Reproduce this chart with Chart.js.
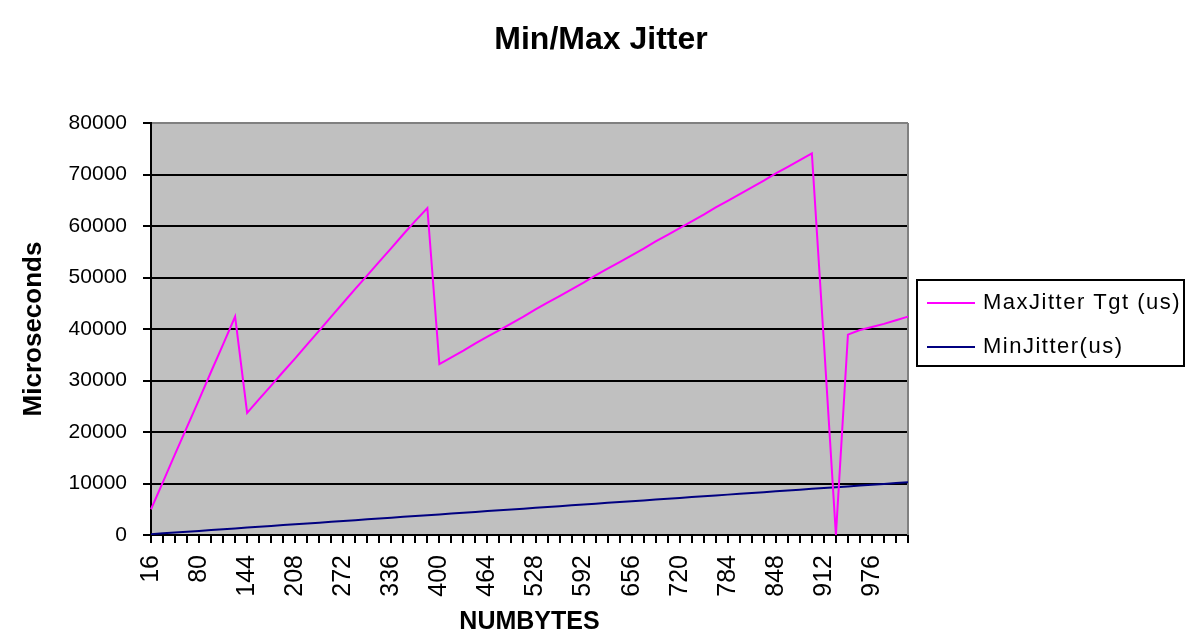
<!DOCTYPE html>
<html><head><meta charset="utf-8">
<script src="https://cdn.jsdelivr.net/npm/chart.js@4/dist/chart.umd.min.js"></script>
<style>html,body{margin:0;padding:0;background:#fff;overflow:hidden}</style>
</head><body>
<canvas id="c" width="1202" height="637"></canvas>
<script>
const chartTitle = 'Min/Max Jitter';
const xTitle = 'NUMBYTES';
const yTitle = 'Microseconds';
const seriesNames = ['MaxJitter Tgt (us)', 'MinJitter(us)'];

const numBytes = [16,32,48,64,80,96,112,128,144,160,176,192,208,224,240,256,
  272,288,304,320,336,352,368,384,400,416,432,448,464,480,496,512,
  528,544,560,576,592,608,624,640,656,672,688,704,720,736,752,768,
  784,800,816,832,848,864,880,896,912,928,944,960,976,992,1008,1024];

const maxJitter = [5000,10300,15700,21000,26300,31700,37000,42400,
  23700,26400,29000,31700,34300,37000,39700,42400,
  45100,47800,50400,53100,55700,58400,61000,63500,
  33200,34500,35800,37200,38500,39800,41100,42400,
  43800,45100,46400,47700,49000,50400,51700,53000,
  54300,55600,57000,58300,59600,60900,62200,63600,
  64900,66200,67500,68800,70200,71500,72800,74100,
  37500,0,38900,39800,40400,41000,41700,42400];

const minJitter = [160,320,480,640,800,960,1120,1280,
  1440,1600,1760,1920,2080,2240,2400,2560,
  2720,2880,3040,3200,3360,3520,3680,3840,
  4000,4160,4320,4480,4640,4800,4960,5120,
  5280,5440,5600,5760,5920,6080,6240,6400,
  6560,6720,6880,7040,7200,7360,7520,7680,
  7840,8000,8160,8320,8480,8640,8800,8960,
  9120,9280,9440,9600,9760,9920,10080,10240];

const yTicks = [0,10000,20000,30000,40000,50000,60000,70000,80000];

const FONT = '"Liberation Sans", Arial, sans-serif';
const COLORS = ['#FF00FF', '#000080'];

const plotDecor = {
  id: 'plotDecor',
  beforeDraw(chart) {
    const {ctx, chartArea: a} = chart;
    ctx.save();
    ctx.fillStyle = '#C0C0C0';
    ctx.fillRect(a.left, a.top, a.right - a.left, a.bottom - a.top);
    ctx.restore();
  },
  beforeDatasetsDraw(chart) {
    const {ctx, chartArea: a} = chart;
    ctx.save();
    ctx.strokeStyle = '#808080';
    ctx.lineWidth = 2;
    ctx.beginPath();
    ctx.moveTo(a.right, a.top);
    ctx.lineTo(a.right, a.bottom);
    ctx.stroke();
    ctx.restore();
  },
  afterDraw(chart) {
    const {ctx, chartArea: a} = chart;
    const left = a.right + 9, top = 280, w = 267, h = 86;
    ctx.save();
    ctx.strokeStyle = '#000';
    ctx.lineWidth = 2;
    ctx.strokeRect(left, top, w, h);
    ctx.font = '22px ' + FONT;
    try { ctx.letterSpacing = '1.5px'; } catch (e) {}
    ctx.textBaseline = 'middle';
    ctx.fillStyle = '#000';
    const rows = [303, 347];
    seriesNames.forEach((name, i) => {
      ctx.strokeStyle = COLORS[i];
      ctx.lineWidth = 2;
      ctx.beginPath();
      ctx.moveTo(left + 10, rows[i]);
      ctx.lineTo(left + 58, rows[i]);
      ctx.stroke();
      ctx.fillText(name, left + 66, rows[i]);
    });
    ctx.restore();
  }
};

new Chart(document.getElementById('c'), {
  type: 'line',
  data: {
    labels: numBytes,
    datasets: [
      {label: seriesNames[0], data: maxJitter, borderColor: COLORS[0], backgroundColor: COLORS[0],
       borderWidth: 2, pointRadius: 0, tension: 0, fill: false, yAxisID: 'y'},
      {label: seriesNames[1], data: minJitter, borderColor: COLORS[1], backgroundColor: COLORS[1],
       borderWidth: 2, pointRadius: 0, tension: 0, fill: false, yAxisID: 'y'}
    ]
  },
  options: {
    responsive: false,
    animation: false,
    layout: {padding: 0},
    plugins: {
      legend: {display: false},
      tooltip: {enabled: false},
      title: {
        display: true, text: chartTitle, color: '#000',
        font: {family: FONT, size: 32, weight: 'bold'},
        padding: {top: 21, bottom: 63.6}
      }
    },
    scales: {
      x: {
        type: 'category',
        offset: false,
        afterFit(s) { s.height = 102; },
        grid: {display: true, drawOnChartArea: false, drawTicks: true, tickLength: 8, color: '#000', lineWidth: 2},
        border: {display: true, color: '#000', width: 2},
        ticks: {
          autoSkip: false, minRotation: 90, maxRotation: 90, padding: 12, color: '#000',
          font: {family: FONT, size: 25},
          callback(v, i) { return i % 4 === 0 ? String(numBytes[i]) : ''; }
        },
        title: {display: true, text: xTitle, color: '#000', font: {family: FONT, size: 25, weight: 'bold'}, padding: {top: 0, bottom: 0}}
      },
      y: {
        type: 'linear', position: 'left', min: 0, max: 80000,
        afterFit(s) { s.width = 151; },
        afterBuildTicks(s) { s.ticks = yTicks.map(v => ({value: v})); },
        grid: {
          display: true, drawOnChartArea: true, drawTicks: true, tickLength: 8, lineWidth: 2,
          color: c => (c.tick && c.tick.value === 80000) ? '#808080' : '#000',
          tickColor: '#000'
        },
        border: {display: true, color: '#000', width: 2},
        ticks: {color: '#000', padding: 16, font: {family: FONT, size: 21}, callback: v => String(v)},
        title: {display: true, text: yTitle, color: '#000', font: {family: FONT, size: 26, weight: 'bold'}, padding: {top: 18, bottom: 0}}
      },
      yPad: {
        type: 'linear', position: 'right', display: true,
        afterFit(s) { s.width = 294; },
        grid: {display: false}, ticks: {display: false}, border: {display: false}
      }
    }
  },
  plugins: [plotDecor]
});
</script>
</body></html>
